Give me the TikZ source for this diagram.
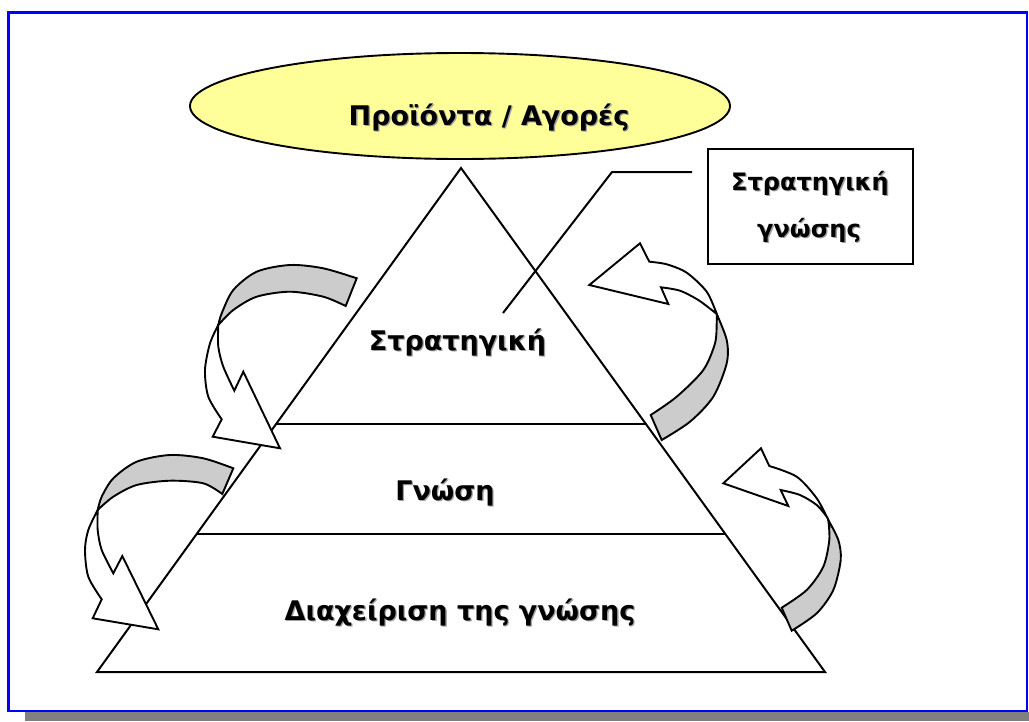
\documentclass[tikz,border=0pt]{standalone}
\usepackage{fontspec}
\setmainfont{DejaVu Sans}
\usetikzlibrary{shapes.geometric}
\definecolor{framefill}{RGB}{255,255,255}
\definecolor{frameblue}{RGB}{0,0,255}
\definecolor{shadowgrey}{RGB}{128,128,128}
\definecolor{bandgrey}{RGB}{204,204,204}
\definecolor{paleyellow}{RGB}{255,255,153}
\definecolor{textshade}{RGB}{160,160,160}
\newcommand\shadedlabel[4]{% name, size, position, text
  \node[lbl,font=\fontsize{#2}{#2}\selectfont\bfseries,text=textshade] at ([shift={(1.3,1.3)}]#3) {#4};
  \node[lbl,font=\fontsize{#2}{#2}\selectfont\bfseries] (#1) at (#3) {#4};}
\begin{document}
\begin{tikzpicture}[x=1pt,y=-1pt,
  line/.style={line width=2pt, line join=round},
  band/.style={line width=1.9pt, line join=miter, fill=bandgrey},
  face/.style={line width=1.9pt, line join=miter, fill=white},
  lbl/.style={inner sep=0pt, anchor=base},
]
\useasboundingbox (0,0) rectangle (1029,721);

% frame with its drop shadow
\fill[shadowgrey] (25,712) rectangle (1029,721);
\draw[frameblue, line width=2.6pt, fill=framefill] (8.3,12.3) rectangle (1027,711);

% top ellipse
\node[draw, line width=1.9pt, fill=paleyellow, ellipse, minimum width=540, minimum height=106, inner sep=0pt] (market) at (460,106) {};
\shadedlabel{markettext}{27}{489,125}{Προϊόντα / Αγορές}

% pyramid and its layers
\coordinate (apex) at (461,168);
\coordinate (baseL) at (97,672);
\coordinate (baseR) at (825,672);
\coordinate (l1L) at (276,424);
\coordinate (l1R) at (646,424);
\coordinate (l2L) at (197,534);
\coordinate (l2R) at (725,534);
\draw[line, line join=miter] (apex) -- (baseL) -- (baseR) -- cycle;
\draw[line] (l1L) -- (l1R);
\draw[line] (l2L) -- (l2R);

\shadedlabel{strategy}{27}{457.5,350}{Στρατηγική}
\shadedlabel{knowledge}{27}{445,500}{Γνώση}
\shadedlabel{management}{27}{460,620}{Διαχείριση της γνώσης}

% callout box and its leader
\node[draw, line width=1.9pt, minimum width=205, minimum height=115, inner sep=0pt] (callout) at (810.5,206.5) {};
\shadedlabel{calloutA}{24}{810,190}{Στρατηγική}
\shadedlabel{calloutB}{24}{809,237}{γνώσης}
\coordinate (leadA) at (692,172);
\coordinate (leadB) at (612,172);
\coordinate (leadC) at (503,313);
\draw[line] (leadA) -- (leadB) -- (leadC);

% curved arrow, upper left
\filldraw[band] plot[smooth] coordinates {(356.7,278.3) (323.3,268.3) (290,265) (256.7,271.7) (233.3,290) (221.7,313.3) (218.3,325)}
  -- plot[smooth] coordinates {(218.3,325) (233.3,310) (256.7,296.7) (290,291.7) (323.3,296.7) (345.7,306)} -- cycle;
\filldraw[face] plot[smooth] coordinates {(218.3,325) (210,343.3) (205,370) (208.3,396.7) (221.7,419.3)}
  -- (212.7,436.7) -- (280,448.3) -- (243.3,371.7)
  -- plot[smooth] coordinates {(234.3,390.7) (223.3,366.7) (218.3,346.7) (218.3,325)} -- cycle;

% curved arrow, lower left
\filldraw[band] plot[smooth] coordinates {(233.3,468.3) (203.3,458.3) (170,455) (136.7,461.7) (113.3,478.3) (101.7,496.7) (97.7,510)}
  -- plot[smooth] coordinates {(97.7,510) (113.3,496.7) (136.7,485) (170,480.7) (203.3,483.3) (222.3,494)} -- cycle;
\filldraw[face] plot[smooth] coordinates {(97.7,510) (88.3,530) (85,550) (88.3,576.7) (101.7,599.3)}
  -- (92.7,618.3) -- (158.3,629.3) -- (122.3,556)
  -- plot[smooth] coordinates {(113.3,573.3) (101.7,550) (97.7,530) (97.7,510)} -- cycle;

% curved arrow, upper right
\filldraw[band] plot[smooth] coordinates {(661.7,440) (690,421.7) (713.3,396.7) (726.7,363.3) (726.7,340) (716.7,314)}
  -- plot[smooth] coordinates {(716.7,314) (716.7,323.3) (715,343.3) (703.3,370) (676.7,396.7) (650.7,415)} -- cycle;
\filldraw[face] plot[smooth] coordinates {(716.7,314) (706.7,291.7) (686.7,272.7) (666.7,264.3) (649.3,261.7)}
  -- (640,243.3) -- (589.3,285) -- (668.3,304)
  -- plot[smooth] coordinates {(661,287.3) (680,290.7) (698.3,300) (711.7,310) (716.7,314)} -- cycle;

% curved arrow, lower right
\filldraw[band] plot[smooth] coordinates {(791.7,630.7) (816.7,613.3) (833.3,590) (840.7,560) (838.3,540) (828.3,520)}
  -- plot[smooth] coordinates {(828.3,520) (829.3,540) (823.3,566.7) (806.7,590) (781.7,607.7)} -- cycle;
\filldraw[face] plot[smooth] coordinates {(828.3,520) (816.7,498.3) (796.7,476.7) (769.3,466)}
  -- (761,448.3) -- (723.3,483.3) -- (788.3,506)
  -- plot[smooth] coordinates {(780.7,490) (800,495) (816.7,505) (826.7,516.7) (828.3,520)} -- cycle;
\end{tikzpicture}
\end{document}
